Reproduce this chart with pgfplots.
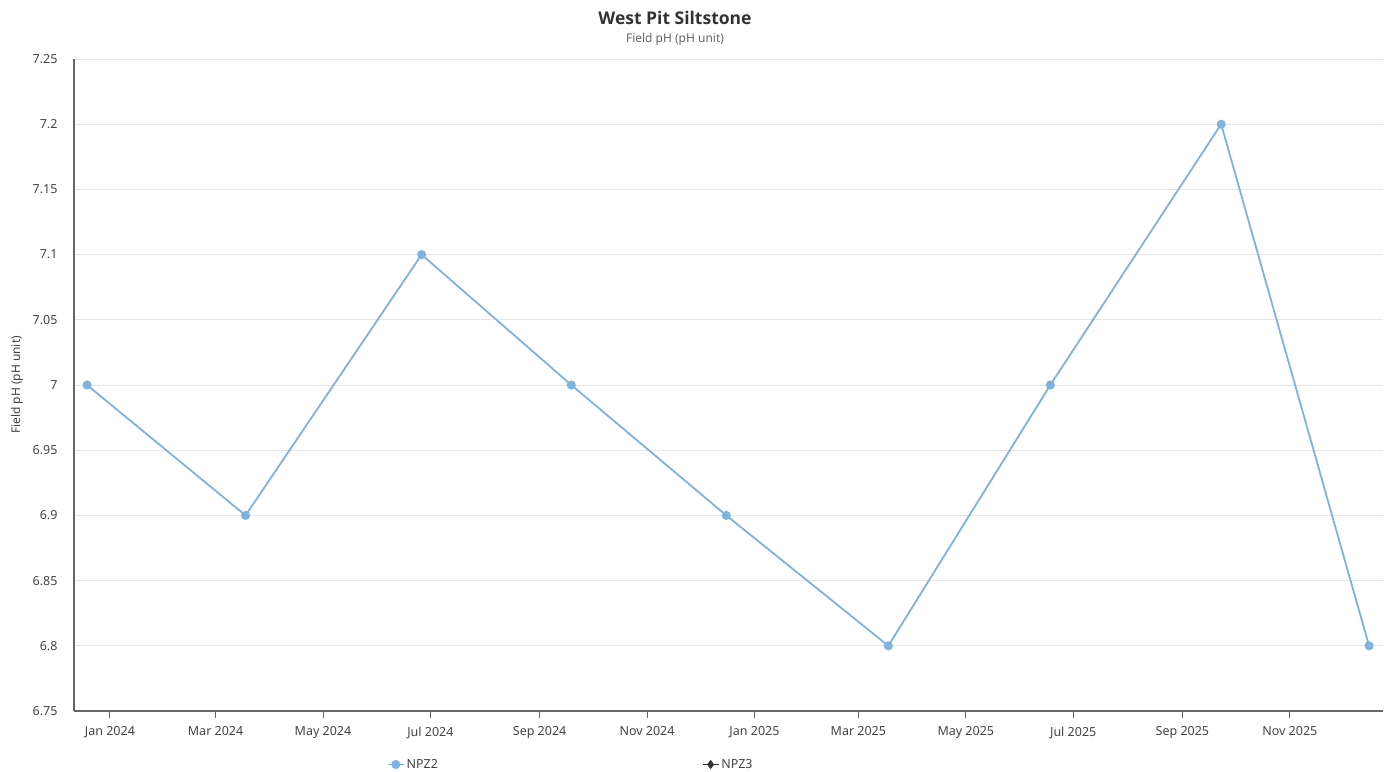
\documentclass[border=0pt]{standalone}
\usepackage{fontspec}
\setmainfont{Noto Sans}
\newfontfamily\titlefont{Open Sans}
\usepackage{pgfplots}
\pgfplotsset{compat=1.18}
\definecolor{npz2}{HTML}{7EB2DF}
\definecolor{axisgray}{HTML}{666666}
\definecolor{gridgray}{HTML}{E6E6E6}
\definecolor{textgray}{HTML}{444444}
\definecolor{titlegray}{HTML}{333333}
\begin{document}
\begin{tikzpicture}[x=1pt,y=1pt]
\useasboundingbox (0,0) rectangle (1391,771);
\begin{axis}[
  at={(74pt,60pt)}, anchor=south west,
  scale only axis, width=1309pt, height=652pt,
  xmin=-20.4, xmax=722.9, ymin=6.75, ymax=7.25,
  axis lines=left,
  axis line style={-, draw=axisgray, line width=1.3pt},
  xtick={0,60,121,182,244,305,366,425,486,547,609,670},
  xticklabels={Jan 2024,Mar 2024,May 2024,Jul 2024,Sep 2024,Nov 2024,Jan 2025,Mar 2025,May 2025,Jul 2025,Sep 2025,Nov 2025},
  ytick={6.75,6.8,6.85,6.9,6.95,7,7.05,7.1,7.15,7.2,7.25},
  yticklabels={6.75,6.8,6.85,6.9,6.95,7,7.05,7.1,7.15,7.2,7.25},
  tick align=outside,
  major tick length=7pt,
  xtick style={draw=axisgray, line width=1pt},
  ytick style={draw=none},
  ymajorgrids,
  grid style={draw=gridgray, line width=0.8pt},
  xticklabel style={font=\fontsize{12.5}{14}\selectfont, text=textgray, yshift=-5pt},
  yticklabel style={font=\fontsize{12.5}{14}\selectfont, text=textgray, xshift=-6pt},
  every axis y label/.style={at={(axis description cs:-0.0435,0.5)}, rotate=90, anchor=center},
  ylabel={Field pH (pH unit)},
  ylabel style={font=\fontsize{12}{14}\selectfont, text=textgray},
  clip=false,
  legend columns=2,
  legend style={at={(0.3795,-0.082)}, anchor=center, draw=none, fill=none,
    font=\fontsize{12.5}{14}\selectfont, text=textgray,
    /tikz/every even column/.append style={column sep=262pt}},
  legend image code/.code={\draw[#1] (0pt,0pt) -- (16pt,0pt); \draw[#1, mark repeat=1] plot coordinates {(8pt,0pt)};},
]
\addplot[color=npz2, line width=1.8pt, mark=*, mark size=3.6pt, mark options={fill=npz2, draw=npz2}] coordinates {
(-13,7.0) (77,6.9) (177,7.1) (262,7.0) (350,6.9) (442,6.8) (534,7.0) (631,7.2) (715,6.8)
};
\addlegendentry{NPZ2}
\addlegendimage{color=titlegray, line width=1.4pt, mark=diamond*, mark size=3.5pt}
\addlegendentry{NPZ3}
\end{axis}
\node[font=\titlefont\bfseries\fontsize{17.5}{20}\selectfont, text=titlegray] at (675,753) {West Pit Siltstone};
\node[font=\fontsize{12}{14}\selectfont, text=axisgray] at (675,732) {Field pH (pH unit)};
\end{tikzpicture}
\end{document}
